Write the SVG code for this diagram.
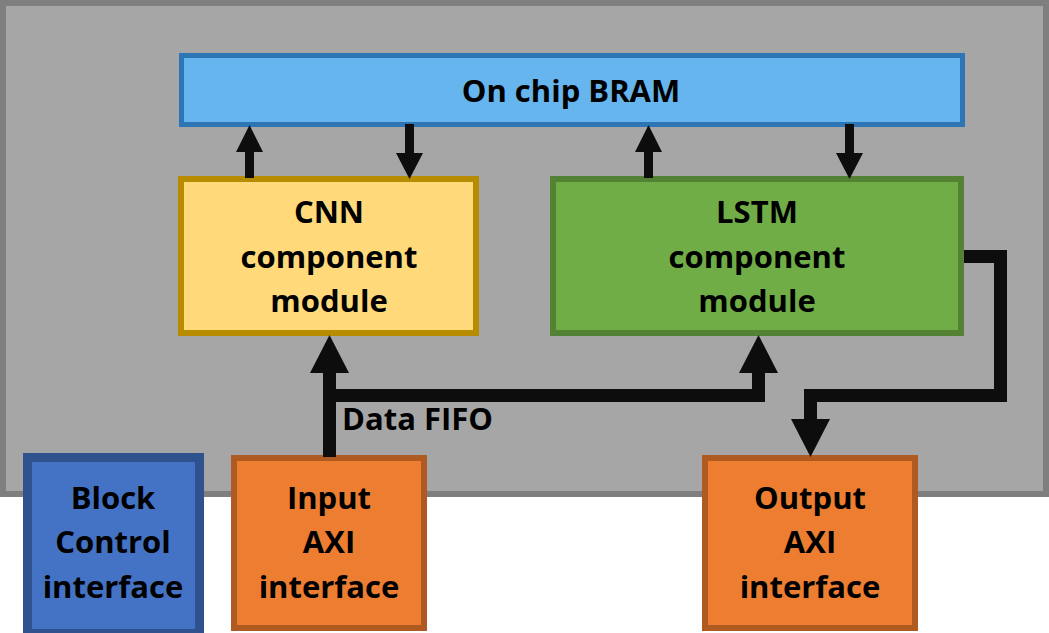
<svg xmlns="http://www.w3.org/2000/svg" width="1049" height="633" viewBox="0 0 1049 633">
<defs>
<style>
text{font-family:"Open Sans","Liberation Sans",sans-serif;font-weight:bold;font-size:31px;fill:#000;text-anchor:middle}
.conn{fill:none;stroke:#0d0d0d;stroke-linejoin:miter}
.head{fill:#0d0d0d}
</style>
</defs>
<rect width="1049" height="633" fill="#fff"/>
<g id="fpga">
<rect x="3" y="3" width="1043" height="491" fill="#a6a6a6" stroke="#7f7f7f" stroke-width="6"/>
</g>
<g id="bram">
<rect x="181.5" y="55.5" width="781" height="69" fill="#66b5ee" stroke="#2e75b6" stroke-width="5"/>
<text x="571" y="102">On chip BRAM</text>
</g>
<g id="cnn">
<rect x="181" y="179" width="295" height="154" fill="#ffd97a" stroke="#b88c00" stroke-width="6"/>
<text x="329" y="223">CNN</text>
<text x="329" y="268">component</text>
<text x="329" y="312">module</text>
</g>
<g id="lstm">
<rect x="553" y="179" width="408" height="154" fill="#70ad47" stroke="#548235" stroke-width="6"/>
<text x="757" y="223">LSTM</text>
<text x="757" y="268">component</text>
<text x="757" y="312">module</text>
</g>
<g id="block">
<rect x="27.5" y="457.5" width="172" height="176" fill="#4472c4" stroke="#2f528f" stroke-width="9"/>
<text x="113" y="509">Block</text>
<text x="113" y="553">Control</text>
<text x="113" y="598">interface</text>
</g>
<g id="input">
<rect x="234" y="458" width="190" height="170" fill="#ed7d31" stroke="#ae5a21" stroke-width="6"/>
<text x="329" y="509">Input</text>
<text x="329" y="553">AXI</text>
<text x="329" y="598">interface</text>
</g>
<g id="output">
<rect x="705" y="458" width="210" height="170" fill="#ed7d31" stroke="#ae5a21" stroke-width="6"/>
<text x="810" y="509">Output</text>
<text x="810" y="553">AXI</text>
<text x="810" y="598">interface</text>
</g>
<g id="connectors">
<path class="conn" stroke-width="9" d="M249.5 178V151"/>
<polygon class="head" points="236,152 263,152 249.5,125"/>
<path class="conn" stroke-width="9" d="M409.5 124V154"/>
<polygon class="head" points="396,153 423,153 409.5,179"/>
<path class="conn" stroke-width="9" d="M648.5 178V151"/>
<polygon class="head" points="635,152 662,152 648.5,125"/>
<path class="conn" stroke-width="9" d="M849.5 124V154"/>
<polygon class="head" points="836,153 863,153 849.5,179"/>
<path class="conn" stroke-width="13" d="M329.5 457V371M329.5 395.5H758.5V371"/>
<polygon class="head" points="310,373 349,373 329.5,335"/>
<polygon class="head" points="739,373 778,373 758.5,335"/>
<path class="conn" stroke-width="13" d="M964 256.5H1000.5V395.5H810.5V421"/>
<polygon class="head" points="791,419 830,419 810.5,457"/>
<text x="342" y="430" style="text-anchor:start">Data FIFO</text>
</g>
</svg>
